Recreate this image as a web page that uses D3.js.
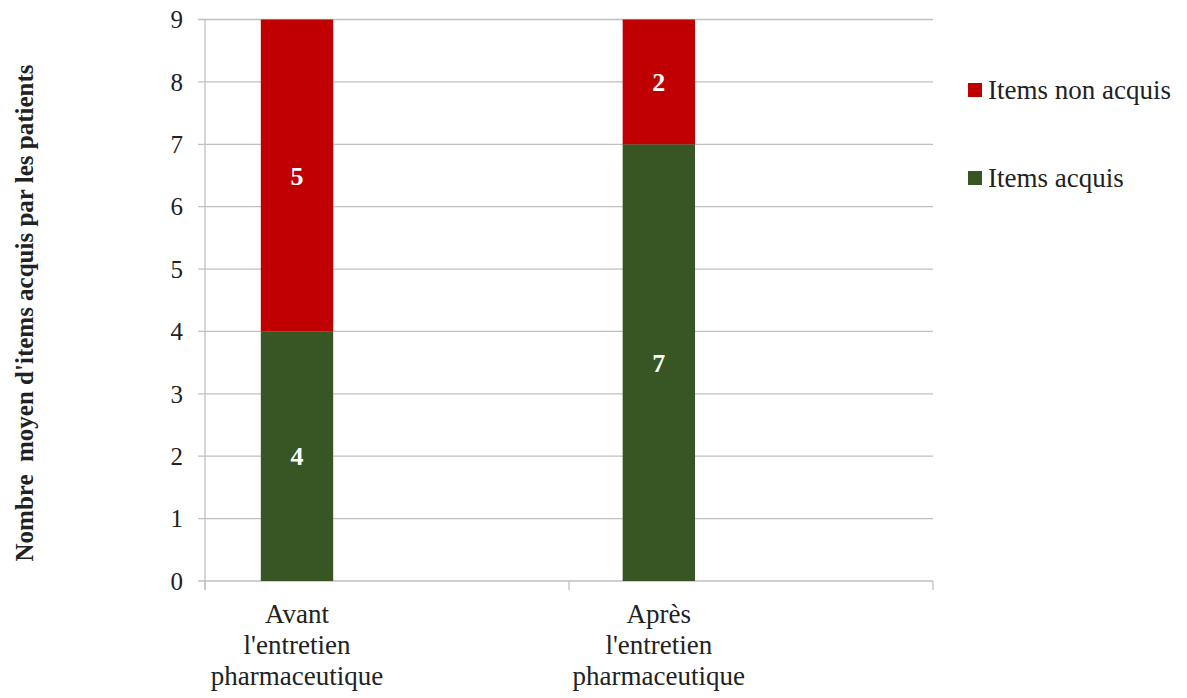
<!DOCTYPE html>
<html><head><meta charset="utf-8">
<script src="https://cdn.jsdelivr.net/npm/d3@7"></script>
<style>body{margin:0;background:#fff}svg{display:block}</style>
</head><body><svg id="c" width="1187" height="698" font-family="'Liberation Serif', 'DejaVu Serif', serif"></svg>
<script>
const categories = [["Avant","l'entretien","pharmaceutique"],["Après","l'entretien","pharmaceutique"]];
const catKeys = ["Avant","Après"];
const seriesNames = ["Items acquis","Items non acquis"];
const acquis = [4, 7];
const nonAcquis = [5, 2];
const yTicks = [0,1,2,3,4,5,6,7,8,9];
const colors = ["#375623","#C00000"];

const FONT = "Liberation Serif, DejaVu Serif, serif";
const svg = d3.select("#c");
const L = 205, R = 933, T = 19.5, B = 581;
const y = d3.scaleLinear().domain([0,9]).range([B,T]);
const x = d3.scaleBand().domain(catKeys).range([L,R]).paddingInner(0.8).paddingOuter(0.406).align(0.19);

svg.append("g").selectAll("line").data(yTicks).join("line")
  .attr("x1", L-7).attr("x2", R).attr("y1", d=>y(d)).attr("y2", d=>y(d))
  .attr("stroke","#c0c0c0").attr("stroke-width",1.3);
svg.append("line").attr("x1",L).attr("x2",L).attr("y1",T).attr("y2",B+9).attr("stroke","#c0c0c0").attr("stroke-width",1.3);
const nCat = catKeys.length;
svg.append("g").selectAll("line").data(d3.range(nCat+1)).join("line")
  .attr("x1", i=>L+i*(R-L)/nCat).attr("x2", i=>L+i*(R-L)/nCat)
  .attr("y1", B).attr("y2", B+9).attr("stroke","#c0c0c0").attr("stroke-width",1.3);

svg.append("g").selectAll("text").data(yTicks).join("text")
  .attr("font-family",FONT)
  .attr("x", 183).attr("y", d=>y(d)).attr("dy","0.35em").attr("text-anchor","end")
  .attr("font-size",25).attr("fill","#222").text(d=>d);

const data = catKeys.map((k,i)=>({key:k, "Items acquis":acquis[i], "Items non acquis":nonAcquis[i]}));
const stack = d3.stack().keys(seriesNames)(data);
stack.forEach((s,si)=>{
  const g = svg.append("g");
  g.selectAll("rect").data(s).join("rect")
    .attr("x", d=>x(d.data.key)).attr("width", x.bandwidth())
    .attr("y", d=>y(d[1])).attr("height", d=>y(d[0])-y(d[1]))
    .attr("fill", colors[si]);
  g.selectAll("text").data(s).join("text")
    .attr("font-family",FONT)
    .attr("x", d=>x(d.data.key)+x.bandwidth()/2).attr("y", d=>(y(d[0])+y(d[1]))/2)
    .attr("dy","0.35em").attr("text-anchor","middle").attr("font-weight","bold")
    .attr("font-size",26).attr("fill","#fff").text(d=>d[1]-d[0]);
});

categories.forEach((lines,i)=>{
  const t = svg.append("text").attr("font-family",FONT).attr("text-anchor","middle").attr("font-size",27).attr("fill","#222");
  lines.forEach((ln,j)=>{
    t.append("tspan").attr("x", x(catKeys[i])+x.bandwidth()/2).attr("y", 623 + j*31).text(ln);
  });
});

const legendItems = [{name:"Items non acquis", c:colors[1], y:90},{name:"Items acquis", c:colors[0], y:178}];
legendItems.forEach(it=>{
  svg.append("rect").attr("x",968).attr("y",it.y-7).attr("width",14).attr("height",14).attr("fill",it.c);
  svg.append("text").attr("font-family",FONT).attr("x",988).attr("y",it.y).attr("dy","0.35em").attr("font-size",27).attr("fill","#222").text(it.name);
});

svg.append("text").attr("font-family",FONT).attr("transform","translate(33,313) rotate(-90)").attr("text-anchor","middle")
  .attr("font-size",25).attr("font-weight","bold").attr("fill","#222").style("white-space","pre")
  .text("Nombre  moyen d'items acquis par les patients");
</script></body></html>
